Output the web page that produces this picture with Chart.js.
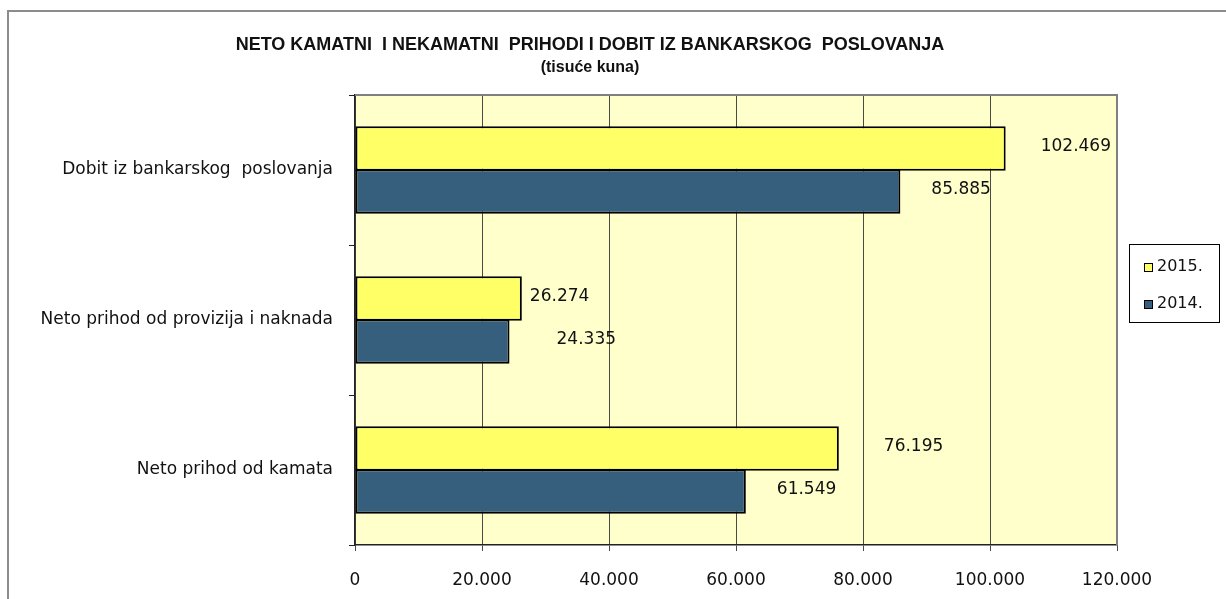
<!DOCTYPE html>
<html>
<head>
<meta charset="utf-8">
<script src="https://cdn.jsdelivr.net/npm/chart.js@4/dist/chart.umd.min.js"></script>
<style>
  html, body { margin: 0; padding: 0; background: #fff; }
  #wrap { position: relative; width: 1226px; height: 599px; }
</style>
</head>
<body>
<div id="wrap"><canvas id="chart" width="1226" height="599"></canvas></div>
<script>
// Chart data (thousands of kuna)
const categories = ['Dobit iz bankarskog  poslovanja', 'Neto prihod od provizija i naknada', 'Neto prihod od kamata'];
const values2015 = [102469, 26274, 76195];
const values2014 = [85885, 24335, 61549];
const seriesNames = ['2015.', '2014.'];
const xTicks = [0, 20000, 40000, 60000, 80000, 100000, 120000];

// label nudges (px to the right of bar end), as placed in the original
const labelShift2015 = [35, 8, 45];
const labelShift2014 = [31, 47, 31];

const FONT = '"DejaVu Sans", sans-serif';

function fmt(v) {
    return String(v).replace(/\B(?=(\d{3})+(?!\d))/g, '.');
}

// Frame, plot background, title, data labels, legend
const decor = {
    id: 'decor',
    beforeDraw(chart) {
        const { ctx, chartArea: a } = chart;
        ctx.save();
        ctx.fillStyle = '#fff';
        ctx.fillRect(0, 0, chart.width, chart.height);
        // outer frame
        ctx.strokeStyle = '#8c8c8c';
        ctx.lineWidth = 2;
        ctx.strokeRect(8, 11, chart.width + 20, chart.height + 20);
        // plot area background
        ctx.fillStyle = '#FFFFCC';
        ctx.fillRect(a.left, a.top, a.right - a.left, a.bottom - a.top);
        ctx.restore();
    },
    afterDatasetsDraw(chart) {
        const { ctx, chartArea: a } = chart;
        ctx.save();
        // top and right plot border
        ctx.strokeStyle = '#808080';
        ctx.lineWidth = 2;
        ctx.beginPath();
        ctx.moveTo(a.left, a.top);
        ctx.lineTo(a.right, a.top);
        ctx.lineTo(a.right, a.bottom);
        ctx.stroke();

        // data labels
        ctx.fillStyle = '#111';
        ctx.font = '17px ' + FONT;
        ctx.textAlign = 'left';
        ctx.textBaseline = 'middle';
        const shifts = [labelShift2015, labelShift2014];
        chart.data.datasets.forEach((ds, di) => {
            chart.getDatasetMeta(di).data.forEach((bar, i) => {
                ctx.fillText(fmt(ds.data[i]), bar.x + shifts[di][i], bar.y - 2);
            });
        });

        // title
        ctx.textAlign = 'center';
        ctx.font = 'bold 18px "Liberation Sans", Arial, sans-serif';
        ctx.fillText('NETO KAMATNI  I NEKAMATNI  PRIHODI I DOBIT IZ BANKARSKOG  POSLOVANJA', 590, 45);
        ctx.font = 'bold 16px "Liberation Sans", Arial, sans-serif';
        ctx.fillText('(tisuće kuna)', 590, 68);

        // legend
        ctx.fillStyle = '#fff';
        ctx.fillRect(1129, 244, 90, 78);
        ctx.strokeStyle = '#000';
        ctx.lineWidth = 1;
        ctx.strokeRect(1129.5, 244.5, 90, 78);
        ctx.font = '16px ' + FONT;
        ctx.textAlign = 'left';
        chart.data.datasets.forEach((ds, di) => {
            const y = 267 + di * 37;
            ctx.fillStyle = ds.backgroundColor;
            ctx.fillRect(1144, y - 4, 9, 9);
            ctx.strokeStyle = '#000';
            ctx.strokeRect(1144.5, y - 3.5, 8, 8);
            ctx.fillStyle = '#111';
            ctx.fillText(ds.label, 1157, y);
        });
        ctx.restore();
    }
};

const chart = new Chart(document.getElementById('chart'), {
    type: 'bar',
    data: {
        labels: categories,
        datasets: [
            {
                label: seriesNames[0],
                data: values2015,
                backgroundColor: '#FFFF66',
                borderColor: '#000',
                borderWidth: 2,
                borderSkipped: false
            },
            {
                label: seriesNames[1],
                data: values2014,
                backgroundColor: '#365F7D',
                borderColor: '#000',
                borderWidth: 2,
                borderSkipped: false
            }
        ]
    },
    options: {
        indexAxis: 'y',
        responsive: false,
        animation: false,
        categoryPercentage: 0.573,
        barPercentage: 1.04,
        layout: { padding: { top: 95, right: 109, left: 0, bottom: 0 } },
        plugins: {
            legend: { display: false },
            title: { display: false },
            tooltip: { enabled: false }
        },
        scales: {
            x: {
                min: 0,
                max: 120000,
                afterBuildTicks(scale) {
                    scale.ticks = xTicks.map(v => ({ value: v }));
                },
                afterFit(scale) { scale.height = 54; },
                ticks: {
                    color: '#111',
                    font: { family: FONT, size: 17 },
                    padding: 19,
                    callback: v => fmt(v)
                },
                grid: {
                    color: '#4a4a4a',
                    lineWidth: 1,
                    tickLength: 6,
                    drawOnChartArea: true
                },
                border: { display: true, color: '#222', width: 1.5 }
            },
            y: {
                afterFit(scale) { scale.width = 355; },
                ticks: {
                    color: '#111',
                    font: { family: FONT, size: 17 },
                    padding: 16
                },
                grid: {
                    drawOnChartArea: false,
                    tickLength: 6,
                    color: '#222',
                    offset: true
                },
                border: { display: true, color: '#222', width: 1.5 }
            }
        }
    },
    plugins: [decor]
});
</script>
</body>
</html>
